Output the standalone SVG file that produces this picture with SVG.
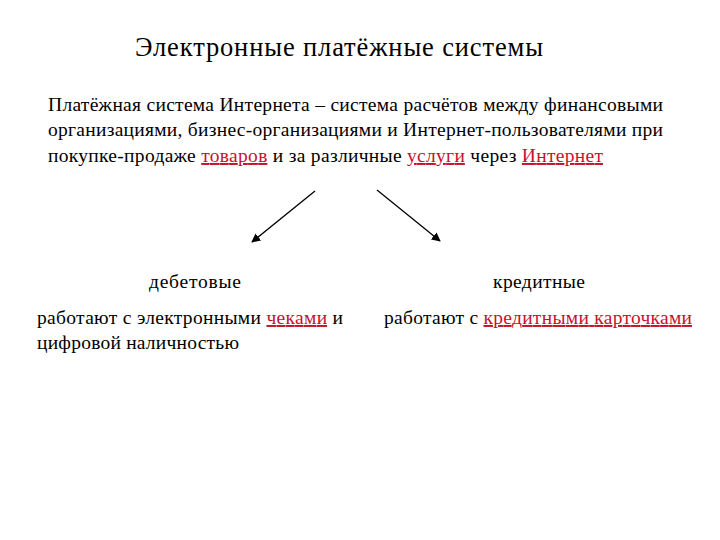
<svg xmlns="http://www.w3.org/2000/svg" width="720" height="540" viewBox="0 0 720 540">
<style>
text{font-family:"Liberation Serif","DejaVu Serif",serif;fill:#000}
.b{font-size:19.5px}
.r{fill:#c8102e;text-decoration:underline}
.c{stroke:#000;stroke-width:1.3;fill:none}
</style>
<defs><marker id="a" viewBox="0 0 10 10" refX="9" refY="5" markerWidth="9" markerHeight="9" orient="auto" markerUnits="userSpaceOnUse"><path d="M0,0L10,5L0,10z" fill="#000"/></marker></defs>
<rect width="720" height="540" fill="#fff"/>
<g id="title"><text x="135" y="56" font-size="26.5" textLength="408">Электронные платёжные системы</text></g>
<g id="definition" class="b">
<text x="48" y="111" textLength="615">Платёжная система Интернета – система расчётов между финансовыми</text>
<text x="48" y="136" textLength="615">организациями, бизнес-организациями и Интернет-пользователями при</text>
<text x="48" y="162" textLength="555">покупке-продаже <tspan class="r">товаров</tspan> и за различные <tspan class="r">услуги</tspan> через <tspan class="r">Интернет</tspan></text>
</g>
<g id="connectors">
<line class="c" x1="315" y1="191" x2="252" y2="242" marker-end="url(#a)"/>
<line class="c" x1="377" y1="190" x2="440" y2="241" marker-end="url(#a)"/>
</g>
<g id="debit" class="b">
<text x="149" y="288" textLength="92">дебетовые</text>
<text x="37" y="324" textLength="306">работают с электронными <tspan class="r">чеками</tspan> и</text>
<text x="37" y="349" textLength="202">цифровой наличностью</text>
</g>
<g id="credit" class="b">
<text x="493" y="288" textLength="92">кредитные</text>
<text x="384" y="324" textLength="308">работают с <tspan class="r">кредитными карточками</tspan></text>
</g>
</svg>
